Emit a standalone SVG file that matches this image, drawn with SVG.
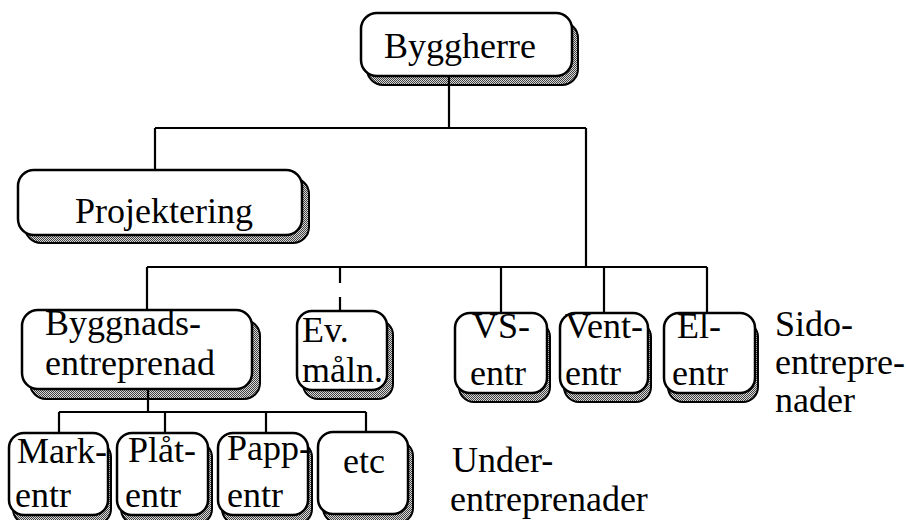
<svg xmlns="http://www.w3.org/2000/svg" width="906" height="520" viewBox="0 0 906 520">
<defs>
<pattern id="dither" width="2" height="2" patternUnits="userSpaceOnUse">
<rect width="2" height="2" fill="#d8d8d8"/>
<rect width="1" height="1" fill="#404040"/>
<rect x="1" y="1" width="1" height="1" fill="#404040"/>
</pattern>
</defs>
<style>
.shadow{fill:url(#dither);stroke:#000;stroke-width:2}
.box{fill:#fff;stroke:#000;stroke-width:2.5}
.conn{stroke:#000;stroke-width:2.2;fill:none}
.dash{stroke-dasharray:16 14}
text{font-family:"Liberation Serif","Times New Roman",serif;font-size:36px;fill:#000}
</style>
<g id="byggherre">
<rect class="shadow" x="367" y="22" width="211" height="63" rx="16"/>
<rect class="box" x="361" y="13" width="211" height="63" rx="16"/>
<text x="384" y="58">Byggherre</text>
</g>
<g id="projektering">
<rect class="shadow" x="25" y="178" width="284" height="65" rx="16"/>
<rect class="box" x="18" y="170" width="284" height="65" rx="16"/>
<text x="75" y="223">Projektering</text>
</g>
<g id="byggnadsentreprenad">
<rect class="shadow" x="30" y="320" width="230" height="79" rx="16"/>
<rect class="box" x="22" y="310" width="230" height="79" rx="16"/>
<text x="45" y="335">Byggnads-</text>
<text x="45" y="375">entreprenad</text>
</g>
<g id="ev-maln">
<rect class="shadow" x="303" y="320" width="90" height="79" rx="15"/>
<rect class="box" x="297" y="311" width="90" height="79" rx="15"/>
<text x="302" y="342">Ev.</text>
<text x="302" y="382">måln.</text>
</g>
<g id="vs-entr">
<rect class="shadow" x="459" y="322" width="91" height="80" rx="15"/>
<rect class="box" x="455" y="313" width="92" height="80" rx="15"/>
<text x="472" y="338">VS-</text>
<text x="470" y="385">entr</text>
</g>
<g id="vent-entr">
<rect class="shadow" x="564" y="322" width="87" height="80" rx="15"/>
<rect class="box" x="560" y="313" width="88" height="80" rx="15"/>
<text x="565" y="338">Vent-</text>
<text x="565" y="385">entr</text>
</g>
<g id="el-entr">
<rect class="shadow" x="668" y="322" width="90" height="80" rx="15"/>
<rect class="box" x="664" y="313" width="91" height="80" rx="15"/>
<text x="677" y="338">El-</text>
<text x="672" y="385">entr</text>
</g>
<g id="mark-entr">
<rect class="shadow" x="13" y="442" width="98" height="82" rx="15"/>
<rect class="box" x="9" y="433" width="99" height="82" rx="15"/>
<text x="17" y="463">Mark-</text>
<text x="15" y="507">entr</text>
</g>
<g id="plat-entr">
<rect class="shadow" x="121" y="442" width="91" height="82" rx="15"/>
<rect class="box" x="117" y="433" width="91" height="82" rx="15"/>
<text x="128" y="462">Plåt-</text>
<text x="125" y="507">entr</text>
</g>
<g id="papp-entr">
<rect class="shadow" x="222" y="442" width="90" height="82" rx="15"/>
<rect class="box" x="218" y="433" width="90" height="82" rx="15"/>
<text x="227" y="460">Papp-</text>
<text x="227" y="507">entr</text>
</g>
<g id="etc">
<rect class="shadow" x="323" y="441" width="90" height="82" rx="15"/>
<rect class="box" x="318" y="432" width="90" height="82" rx="15"/>
<text x="343" y="473">etc</text>
</g>
<g id="labels">
<text x="775" y="336">Sido-</text>
<text x="775" y="374">entrepre-</text>
<text x="775" y="412">nader</text>
<text x="452" y="472">Under-</text>
<text x="450" y="511">entreprenader</text>
</g>
<g id="connectors">
<path class="conn" d="M449 76V128M155 128H586M155 128V170M586 128V267"/>
<path class="conn" d="M147 267H707M147 267V310M501 267V313M604 267V313M707 267V313"/>
<path class="conn dash" d="M340 267V311"/>
<path class="conn" d="M148 389V412M59 412H366M59 412V433M165 412V433M266 412V433M366 412V432"/>
</g>
</svg>
